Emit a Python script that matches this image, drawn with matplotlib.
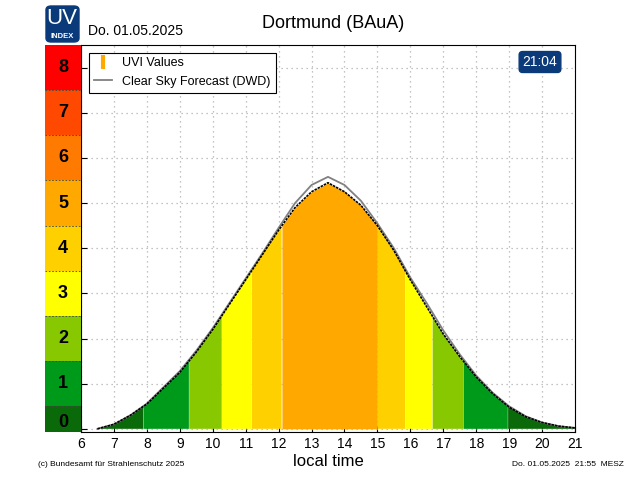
import numpy as np
import matplotlib
matplotlib.use("Agg")
import matplotlib.pyplot as plt
from matplotlib.patches import FancyBboxPatch, Rectangle
from matplotlib.lines import Line2D

plt.rcParams["font.family"] = "Liberation Sans"

hours = [6.5, 7, 7.5, 8, 8.5, 9, 9.5, 10, 10.5, 11, 11.5, 12, 12.5, 13, 13.5, 14, 14.5, 15, 15.5, 16, 16.5, 17, 17.5, 18, 18.5, 19, 19.5, 20, 20.5, 21]
uvi = [0.0, 0.1, 0.3, 0.55, 0.9, 1.25, 1.7, 2.2, 2.75, 3.3, 3.85, 4.4, 4.9, 5.25, 5.45, 5.25, 4.95, 4.5, 3.95, 3.3, 2.7, 2.1, 1.6, 1.15, 0.78, 0.48, 0.27, 0.14, 0.06, 0.02]
forecast = [0.0, 0.1, 0.3, 0.56, 0.92, 1.28, 1.73, 2.23, 2.78, 3.33, 3.88, 4.45, 5.0, 5.4, 5.58, 5.4, 5.05, 4.55, 4.0, 3.35, 2.78, 2.18, 1.65, 1.18, 0.8, 0.5, 0.28, 0.14, 0.06, 0.02]
levels = [0, 1, 2, 3, 4, 5, 6, 7, 8]
colors = ["#0a6a0a", "#009a1a", "#88c800", "#ffff00", "#ffd000", "#ffa800", "#ff7a00", "#ff4800", "#ff0000"]

fig = plt.figure(figsize=(6.4, 4.8), dpi=100)
ax = fig.add_axes([81/640, 48/480, 494/640, 387/480])
ax.set_xlim(6, 21)
ax.set_ylim(-0.07, 8.5)

xf = np.linspace(hours[0], hours[-1], 1500)
yf = np.interp(xf, hours, uvi)
cat = np.clip(np.round(yf), 0, 8).astype(int)
for k in levels:
    ax.fill_between(xf, 0, yf, where=(cat == k), color=colors[k], linewidth=0, zorder=2)
ax.plot(hours, forecast, color="#808080", lw=1.3, zorder=3)
ax.plot(hours, uvi, color="black", lw=1.2, ls=(0, (1.5, 0.6)), zorder=4)

ax.set_xticks(range(6, 22))
ax.set_xticklabels([str(h) for h in range(6, 22)], fontsize=10)
ax.set_yticks(range(0, 9))
ax.set_yticklabels([])
ax.tick_params(direction="in", length=4)
ax.grid(True, color="#b0b0b0", linestyle=(0, (1, 3)), lw=0.9, zorder=0)
ax.set_xlabel("local time", fontsize=12, labelpad=2)

scale = fig.add_axes([45/640, 48/480, 36/640, 387/480], sharey=ax)
for k in levels:
    b = -0.07 if k == 0 else k - 0.5
    t = 8.5 if k == 8 else k + 0.5
    scale.add_patch(Rectangle((0, b), 1, t - b, color=colors[k], lw=0))
    scale.text(0.5, k + (0.15 if k == 0 else 0), str(k), ha="center", va="center", fontsize=13, fontweight="bold")
    if k > 0:
        scale.axhline(k - 0.5, color="#444444", lw=0.6, ls=(0, (2, 2)))
scale.set_xlim(0, 1)
scale.axis("off")

fig.text(0.52, 0.95, "Dortmund (BAuA)", ha="center", va="center", fontsize=13)
fig.text(88/640, 0.935, "Do. 01.05.2025", ha="left", va="center", fontsize=10)
fig.patches.append(FancyBboxPatch((46/640, 438/480), 33/640, 36/480, boxstyle="round,pad=0,rounding_size=0.008",
                                  transform=fig.transFigure, color="#0b3a7a"))
fig.text(62/640, 461/480, "UV", ha="center", va="center", color="white", fontsize=16)
fig.text(62/640, 443/480, "INDEX", ha="center", va="center", color="white", fontsize=5.5, fontweight="bold")
fig.text(540/640, 418/480, "21:04", ha="center", va="center", color="white", fontsize=10,
         bbox=dict(boxstyle="round,pad=0.25", fc="#0b3a7a", ec="#0b3a7a"))
fig.text(38/640, 16/480, "(c) Bundesamt für Strahlenschutz 2025", fontsize=6, va="center")
fig.text(624/640, 16/480, "Do. 01.05.2025  21:55  MESZ", fontsize=6, va="center", ha="right")

h1 = Line2D([], [], color="#ffa800", marker="|", ls="none", markersize=10, mew=3)
h2 = Line2D([], [], color="#808080", lw=1.3)
leg = ax.legend([h1, h2], ["UVI Values", "Clear Sky Forecast (DWD)"], loc="upper left",
                fontsize=9, fancybox=False, edgecolor="black", framealpha=1, borderaxespad=0.6, handlelength=1.5)
leg.get_frame().set_linewidth(0.8)

fig.savefig("out.png", dpi=100)
